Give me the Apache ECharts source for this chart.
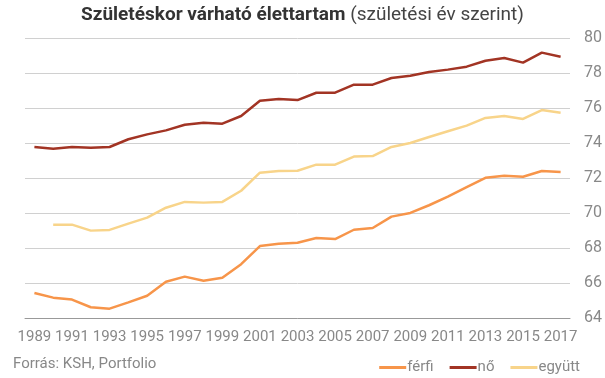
<!DOCTYPE html>
<html><head><meta charset="utf-8">
<script src="https://cdn.jsdelivr.net/npm/echarts@6/dist/echarts.min.js"></script>
<style>html,body{margin:0;padding:0;background:#fff}#c{width:605px;height:378px}</style>
</head><body><div id="c"></div>
<script>
const years = ['1989','1990','1991','1992','1993','1994','1995','1996','1997','1998','1999','2000','2001','2002','2003','2004','2005','2006','2007','2008','2009','2010','2011','2012','2013','2014','2015','2016','2017'];
const ferfi = [65.45,65.18,65.07,64.63,64.55,64.91,65.29,66.09,66.38,66.15,66.32,67.09,68.13,68.26,68.32,68.59,68.53,69.06,69.16,69.81,70.02,70.46,70.95,71.49,72.03,72.15,72.09,72.42,72.36];
const no = [73.79,73.69,73.79,73.75,73.79,74.23,74.51,74.74,75.06,75.18,75.12,75.56,76.43,76.53,76.47,76.89,76.89,77.35,77.35,77.73,77.86,78.07,78.21,78.38,78.72,78.87,78.61,79.18,78.95];
const egyutt = [null,69.35,69.35,69.01,69.05,69.41,69.75,70.32,70.65,70.61,70.65,71.29,72.32,72.42,72.43,72.78,72.78,73.24,73.27,73.79,74.02,74.36,74.69,75.01,75.45,75.56,75.39,75.90,75.75];
const seriesNames = ['férfi','nő','együtt'];
const titleBold = 'Születéskor várható élettartam';
const titleNormal = ' (születési év szerint)';
const source = 'Forrás: KSH, Portfolio';

const FONT = "'Liberation Sans Narrow', Roboto, sans-serif";
const colors = ['#f7954a','#a23424','#f8d48a'];
const chart = echarts.init(document.getElementById('c'), null, {renderer:'canvas'});
chart.setOption({
  animation:false,
  color: colors,
  textStyle:{fontFamily:FONT},
  title:{
    text:'{b|'+titleBold+'}{n|'+titleNormal+'}',
    left:'center', top:1,
    textStyle:{rich:{
      b:{fontFamily:FONT,fontWeight:'bold',fontSize:19,color:'#333'},
      n:{fontFamily:FONT,fontWeight:'normal',fontSize:19,color:'#444'}
    }}
  },
  graphic:[{type:'text',left:13,top:357,style:{text:source,fontFamily:FONT,fontSize:15,fill:'#888'}}],
  legend:{
    right:20, top:355,
    icon:'rect', itemWidth:27, itemHeight:3, itemGap:16,
    textStyle:{fontFamily:FONT,fontSize:15,color:'#888',padding:[0,0,0,-4]},
    data:seriesNames
  },
  grid:{left:25,right:33,top:38.3,bottom:59.7,containLabel:false},
  xAxis:{
    type:'category', data:years, boundaryGap:true,
    axisLine:{show:true,lineStyle:{color:'#999',width:1}},
    axisTick:{show:false},
    axisLabel:{interval:1,color:'#888',fontSize:15,fontFamily:FONT,margin:11}
  },
  yAxis:{
    type:'value', position:'right', min:64, max:80, interval:2,
    axisLine:{show:false}, axisTick:{show:false},
    splitLine:{lineStyle:{color:'#d0d0d0',width:1}},
    axisLabel:{color:'#888',fontSize:16,fontFamily:FONT,margin:14}
  },
  series:[
    {name:seriesNames[0],type:'line',data:ferfi,symbol:'none',lineStyle:{width:2.5,color:colors[0]}},
    {name:seriesNames[1],type:'line',data:no,symbol:'none',lineStyle:{width:2.5,color:colors[1]}},
    {name:seriesNames[2],type:'line',data:egyutt,symbol:'none',lineStyle:{width:2.5,color:colors[2]}}
  ]
});
</script></body></html>
